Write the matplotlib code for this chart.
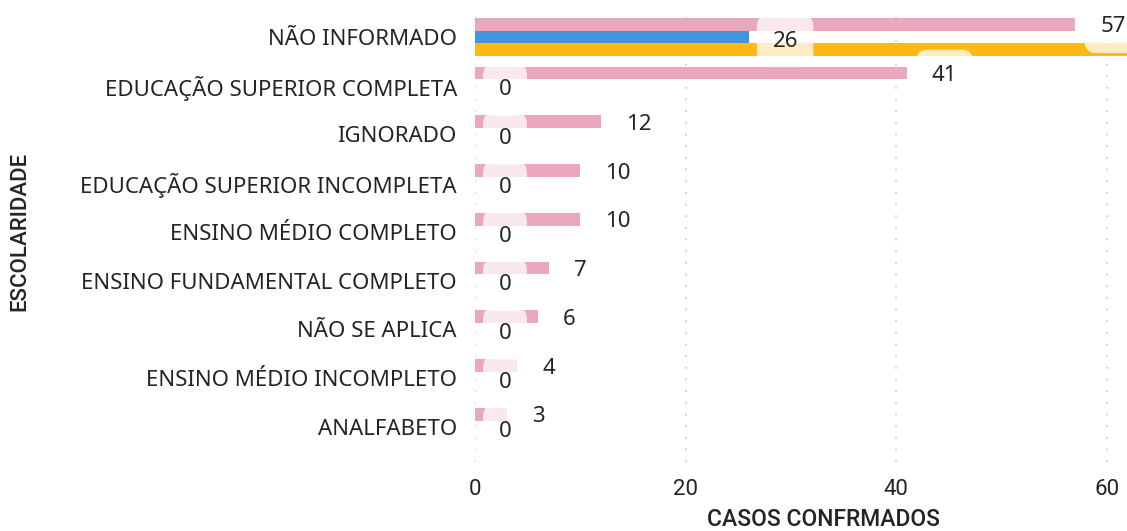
import numpy as np
import matplotlib
matplotlib.use("Agg")
import matplotlib.pyplot as plt

# Data
categorias = ["NÃO INFORMADO", "EDUCAÇÃO SUPERIOR COMPLETA", "IGNORADO",
              "EDUCAÇÃO SUPERIOR INCOMPLETA", "ENSINO MÉDIO COMPLETO",
              "ENSINO FUNDAMENTAL COMPLETO", "NÃO SE APLICA",
              "ENSINO MÉDIO INCOMPLETO", "ANALFABETO"]
serie_rosa = [57, 41, 12, 10, 10, 7, 6, 4, 3]
serie_azul = [26, 0, 0, 0, 0, 0, 0, 0, 0]
serie_laranja = [83, 0, 0, 0, 0, 0, 0, 0, 0]
x_ticks = [0, 20, 40, 60]

cor_rosa = "#eaa7bd"
cor_azul = "#3f96d9"
cor_laranja = "#fdb813"
cor_texto = "#252423"

plt.rcParams['font.family'] = ['Noto Sans', 'DejaVu Sans']

fig = plt.figure(figsize=(11.27, 5.31), dpi=100)
ax = fig.add_axes([0.4215, 0.13, 0.5785, 0.8455])

y = np.arange(len(categorias))
h = 0.26
ax.barh(y - h, serie_rosa, height=h, color=cor_rosa, zorder=2)
ax.barh(y, serie_azul, height=h, color=cor_azul, zorder=2)
ax.barh(y + h, serie_laranja, height=h, color=cor_laranja, zorder=2)

# caixas brancas semitransparentes atrás dos rótulos
caixa = dict(boxstyle="round,pad=0.7,rounding_size=0.5", fc="white", ec="none", alpha=0.75)
for i in range(len(categorias)):
    ax.annotate(str(serie_rosa[i]), (serie_rosa[i], y[i] - h), xytext=(18, -2),
                textcoords="offset points", ha="left", va="center", fontsize=16,
                color=cor_texto, bbox=caixa, zorder=4)
    ax.annotate(str(serie_azul[i]), (serie_azul[i], y[i]), xytext=(17, -3),
                textcoords="offset points", ha="left", va="center", fontsize=16,
                color=cor_texto, bbox=caixa, zorder=4)

ax.set_xlim(0, 61.9)
ax.set_ylim(8.72, -0.49)
ax.set_yticks(y)
ax.set_yticklabels(categorias, fontsize=16, color=cor_texto)
ax.set_xticks(x_ticks)
ax.set_xticklabels([str(v) for v in x_ticks], fontsize=16, color=cor_texto, family=['Roboto'])
ax.tick_params(axis='both', length=0)
ax.tick_params(axis='y', pad=13)
ax.tick_params(axis='x', pad=12)
for s in ax.spines.values():
    s.set_visible(False)
ax.grid(axis='x', color="#c8c8c8", linestyle=(0, (1, 6)), linewidth=1.2, zorder=0)
ax.set_axisbelow(True)

ax.set_xlabel("CASOS CONFRMADOS", fontsize=16.5, color=cor_texto, family=['Roboto'],
              fontweight='medium')
ax.xaxis.set_label_coords(0.534, -0.103)
fig.text(0.018, 0.565, "ESCOLARIDADE", rotation=90, ha="center", va="center",
         fontsize=16, color=cor_texto, family=['Roboto'], fontweight='medium')

fig.savefig("out.png", dpi=100)
